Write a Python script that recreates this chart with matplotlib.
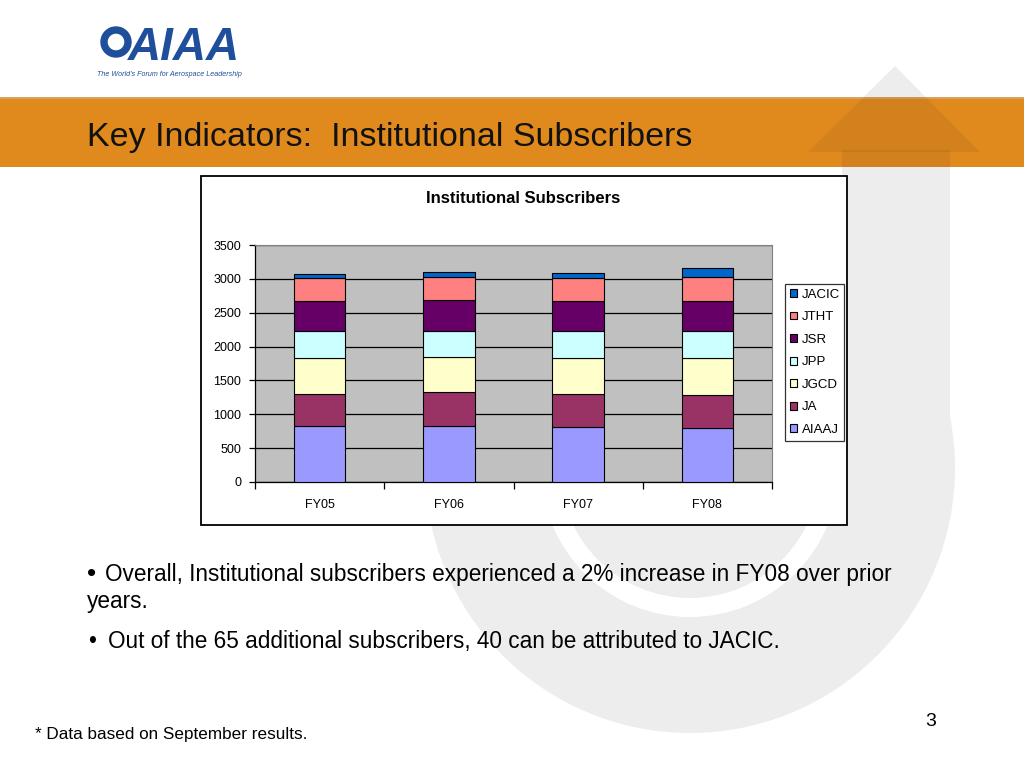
import matplotlib.pyplot as plt
from matplotlib.patches import Rectangle, Circle, Wedge, Polygon

plt.rcParams['font.family'] = ['Liberation Sans', 'DejaVu Sans']

years = ['FY05', 'FY06', 'FY07', 'FY08']
journals = ['AIAAJ', 'JA', 'JGCD', 'JPP', 'JSR', 'JTHT', 'JACIC']
aiaaj = [828, 828, 808, 793]
ja = [478, 498, 498, 498]
jgcd = [532, 527, 532, 533]
jpp = [395, 380, 395, 409]
jsr = [438, 453, 438, 438]
jtht = [335, 335, 335, 360]
jacic = [69, 74, 84, 123]
colors = ['#9999FF', '#993366', '#FFFFCC', '#CCFFFF', '#660066', '#FF8080', '#0066CC']

fig = plt.figure(figsize=(10.24, 7.68), dpi=100)

# slide background in pixel coordinates
bg = fig.add_axes([0, 0, 1, 1], zorder=0)
bg.set_xlim(0, 1024)
bg.set_ylim(768, 0)
bg.axis('off')

wm = '#EDEDED'
bg.add_patch(Circle((690, 468), 265, color=wm, lw=0))
bg.add_patch(Circle((690, 468), 149, color='white', lw=0))
bg.add_patch(Circle((690, 468), 130, color=wm, lw=0))
bg.add_patch(Rectangle((842, 150), 108, 318, color=wm, lw=0))
bg.add_patch(Polygon([(808, 152), (980, 152), (895, 66)], color=wm, lw=0))

banner = Rectangle((0, 97), 1024, 70, facecolor='#E08A1E', lw=0)
bg.add_patch(banner)
bg.add_patch(Rectangle((0, 97), 1024, 2, facecolor='#D9A060', lw=0))
for p in [Polygon([(808, 152), (980, 152), (895, 66)]), Rectangle((842, 150), 108, 20)]:
    p.set_facecolor('k')
    p.set_alpha(0.06)
    p.set_linewidth(0)
    bg.add_patch(p)
    p.set_clip_path(banner)

# logo
bg.add_patch(Wedge((116, 42), 15, 0, 360, width=6, color='#1F4E9A'))
bg.text(128, 60, 'AIAA', fontsize=33, fontweight='bold', style='italic',
        color='#1F4E9A', va='baseline')
bg.text(97, 76, "The World's Forum for Aerospace Leadership", fontsize=5.1,
        style='italic', color='#1F4E9A', va='baseline')

bg.text(87, 146, 'Key Indicators:  Institutional Subscribers', fontsize=24.5,
        color='#111111', va='baseline')

# chart box
bg.add_patch(Rectangle((201, 176), 646, 349, facecolor='white', edgecolor='black', lw=1.3))
bg.text(523, 203, 'Institutional Subscribers', fontsize=12, fontweight='bold',
        ha='center', va='baseline')

bg.text(87, 581, '•', fontsize=19, va='baseline')
bg.text(105, 581, 'Overall, Institutional subscribers experienced a 2% increase in FY08 over prior',
        fontsize=16.3, va='baseline')
bg.text(87, 608, 'years.', fontsize=16.3, va='baseline')
bg.text(88, 648, '•', fontsize=16.3, va='baseline')
bg.text(108, 648, 'Out of the 65 additional subscribers, 40 can be attributed to JACIC.',
        fontsize=16.3, va='baseline')
bg.text(35, 739, '* Data based on September results.', fontsize=12.3, va='baseline')
bg.text(925, 726, '3', fontsize=14, va='baseline')

# chart
ax = fig.add_axes([255 / 1024, 1 - 482 / 768, 517 / 1024, 237 / 768], zorder=1)
ax.set_facecolor('#C0C0C0')
series = [aiaaj, ja, jgcd, jpp, jsr, jtht, jacic]
x = list(range(len(years)))
bottom = [0] * len(years)
handles = []
for name, vals, c in zip(journals, series, colors):
    h = ax.bar(x, vals, 0.4, bottom=bottom, color=c, edgecolor='black', lw=0.8,
               label=name, zorder=3)
    handles.append(h)
    bottom = [b + v for b, v in zip(bottom, vals)]

ax.set_xlim(-0.5, 3.5)
ax.set_ylim(0, 3500)
ax.set_yticks(range(0, 3501, 500))
ax.yaxis.grid(True, color='black', lw=0.9, zorder=1)
ax.set_axisbelow(True)
ax.set_xticks(x)
ax.set_xticklabels(years)
ax.set_xticks([-0.5, 0.5, 1.5, 2.5, 3.5], minor=True)
ax.tick_params(axis='x', which='major', length=0, pad=12, labelsize=9)
ax.tick_params(axis='x', which='minor', length=5, width=0.9, direction='out')
ax.tick_params(axis='y', length=4, width=0.9, labelsize=9, pad=6)
ax.spines['top'].set_color('#808080')
ax.spines['right'].set_color('#808080')
ax.spines['left'].set_linewidth(0.9)
ax.spines['bottom'].set_linewidth(0.9)

leg = ax.legend(handles[::-1], journals[::-1], loc='upper left',
                bbox_to_anchor=(785 / 1024, 1 - 284 / 768), bbox_transform=fig.transFigure,
                fontsize=9.5, frameon=True, fancybox=False, edgecolor='black',
                handlelength=0.55, handleheight=0.55, handletextpad=0.35,
                labelspacing=0.8, borderpad=0.35, borderaxespad=0)
leg.get_frame().set_linewidth(0.9)

fig.savefig('out.png', dpi=100)
